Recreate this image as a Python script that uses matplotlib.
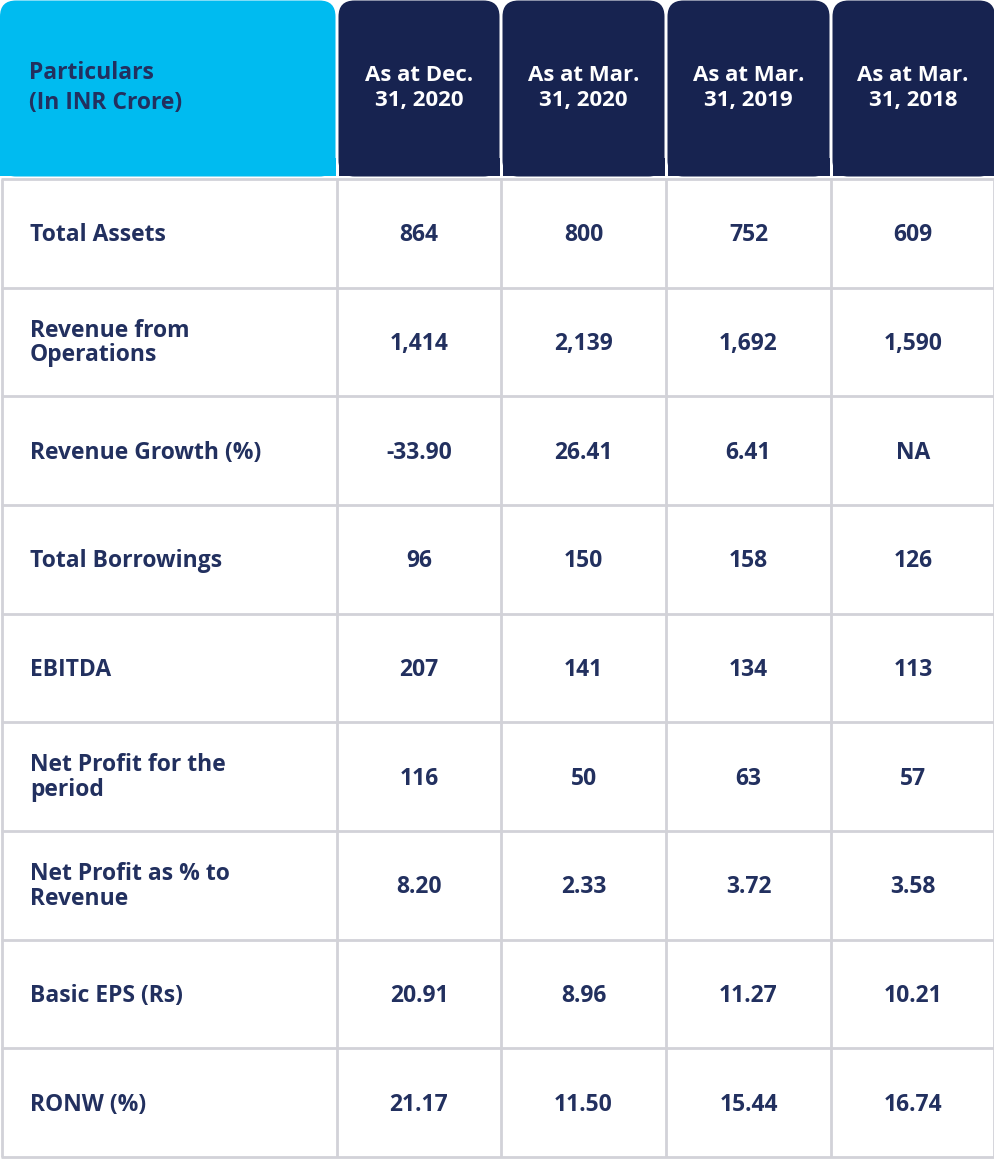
import matplotlib.pyplot as plt
from matplotlib.patches import FancyBboxPatch, Rectangle

header_first = "Particulars\n(In INR Crore)"
col_headers = ["As at Dec.\n31, 2020", "As at Mar.\n31, 2020", "As at Mar.\n31, 2019", "As at Mar.\n31, 2018"]
row_labels = ["Total Assets", "Revenue from\nOperations", "Revenue Growth (%)", "Total Borrowings",
              "EBITDA", "Net Profit for the\nperiod", "Net Profit as % to\nRevenue", "Basic EPS (Rs)", "RONW (%)"]
dec_2020 = ["864", "1,414", "-33.90", "96", "207", "116", "8.20", "20.91", "21.17"]
mar_2020 = ["800", "2,139", "26.41", "150", "141", "50", "2.33", "8.96", "11.50"]
mar_2019 = ["752", "1,692", "6.41", "158", "134", "63", "3.72", "11.27", "15.44"]
mar_2018 = ["609", "1,590", "NA", "126", "113", "57", "3.58", "10.21", "16.74"]

cyan = "#00bbf0"
navy = "#172350"
text_navy = "#22305f"
grid = "#d2d2d8"

plt.rcParams['font.family'] = ['Open Sans', 'DejaVu Sans']

W, H = 995, 1159
fig = plt.figure(figsize=(W / 100, H / 100), dpi=100)
ax = fig.add_axes([0, 0, 1, 1])
ax.set_xlim(0, W)
ax.set_ylim(H, 0)
ax.axis('off')

# column edges (pixels)
col_x = [0, 337, 501, 666, 831, 995]
header_bottom = 176
body_top = 179
row_h = (1157 - body_top) / len(row_labels)
radius = 16


def header_box(x0, x1, color):
    gap = 1.5
    box = FancyBboxPatch((x0 + gap, 0.5), x1 - x0 - 2 * gap, header_bottom,
                         boxstyle=f"round,pad=0,rounding_size={radius}",
                         fc=color, ec='none')
    ax.add_patch(box)
    ax.add_patch(Rectangle((x0 + gap, header_bottom - radius - 2), x1 - x0 - 2 * gap, radius + 2,
                           fc=color, ec='none'))


header_box(col_x[0] - 1.5, col_x[1], cyan)
for i in range(4):
    header_box(col_x[i + 1], col_x[i + 2] + (1.5 if i == 3 else 0), navy)

ax.text(29, 88, header_first, ha='left', va='center', fontsize=16.5, fontweight='bold',
        color=text_navy, linespacing=1.3)
for i, h in enumerate(col_headers):
    cx = (col_x[i + 1] + col_x[i + 2]) / 2
    ax.text(cx, 88, h, ha='center', va='center', fontsize=16, fontweight='bold',
            color='white', linespacing=1.3)

# grid
ys = [body_top + k * row_h for k in range(len(row_labels) + 1)]
for y in ys:
    ax.plot([1, 994], [y, y], color=grid, lw=2, solid_capstyle='butt')
for x in [1.5, 337, 501, 666, 831, 993.5]:
    ax.plot([x, x], [body_top, ys[-1]], color=grid, lw=2, solid_capstyle='butt')

columns = [dec_2020, mar_2020, mar_2019, mar_2018]
for r, label in enumerate(row_labels):
    cy = body_top + (r + 0.5) * row_h + 2
    ax.text(30, cy - (1 if "\n" in label else 0), label, ha='left', va='center', fontsize=16.5,
            fontweight='bold', color=text_navy, linespacing=1.05)
    for c, vals in enumerate(columns):
        cx = (col_x[c + 1] + col_x[c + 2]) / 2
        ax.text(cx, cy, vals[r], ha='center', va='center', fontsize=16.5, fontweight='bold',
                color=text_navy)

fig.savefig('out.png', dpi=100)
